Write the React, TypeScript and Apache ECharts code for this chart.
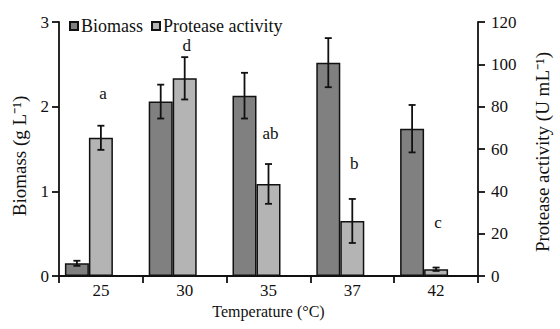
import React, { useEffect, useRef } from "react";
import * as echarts from "echarts";

const categories = ["25", "30", "35", "37", "42"];
const biomass = [0.15, 2.06, 2.13, 2.52, 1.74];
const biomassErr = [0.03, 0.2, 0.27, 0.29, 0.28];
const protease = [65.3, 93.4, 43.5, 26, 3.2];
const proteaseErr = [5.7, 10, 9.4, 10.4, 0.8];
const letters = ["a", "d", "ab", "b", "c"];
const letterPos = [86, 109, 67.5, 53, 25.5];

const FONT = "'Liberation Serif', 'Times New Roman', serif";
const BAR_W = 24;

export default function App() {
  const ref = useRef<HTMLDivElement>(null);
  useEffect(() => {
    if (!ref.current) return;
    const chart = echarts.init(ref.current, undefined, { renderer: "svg" });

    const errItem = (offset: number) => (params: any, api: any) => {
      const x = api.value(0);
      const v = api.value(1);
      const e = api.value(2);
      const hi = api.coord([x, v + e]);
      const lo = api.coord([x, v - e]);
      const cx = hi[0] + offset;
      const cap = 3.5;
      const st = { stroke: "#111", lineWidth: 1.8 };
      return {
        type: "group",
        children: [
          { type: "line", shape: { x1: cx, y1: hi[1], x2: cx, y2: lo[1] }, style: st },
          { type: "line", shape: { x1: cx - cap, y1: hi[1], x2: cx + cap, y2: hi[1] }, style: st },
          { type: "line", shape: { x1: cx - cap, y1: lo[1], x2: cx + cap, y2: lo[1] }, style: st },
        ],
      };
    };

    const letterItem = (params: any, api: any) => {
      const p = api.coord([api.value(0), api.value(1)]);
      return {
        type: "text",
        x: p[0] + 2,
        y: p[1],
        style: {
          text: letters[params.dataIndex],
          fill: "#111",
          font: `17px ${FONT}`,
          align: "center",
          verticalAlign: "middle",
        },
      };
    };

    const axisLine = { show: true, lineStyle: { color: "#111", width: 1.8 } };
    const axisTick = { show: true, inside: false, length: 7, lineStyle: { color: "#111", width: 1.8 } };

    chart.setOption({
      animation: false,
      textStyle: { fontFamily: FONT },
      grid: { left: 59, right: 71, top: 22, bottom: 53 },
      legend: {
        left: 64,
        top: 12,
        itemWidth: 8,
        itemHeight: 8,
        itemGap: 8,
        icon: "rect",
        data: ["Biomass", "Protease activity"],
        textStyle: {
          fontFamily: FONT,
          fontSize: 18,
          lineHeight: 16,
          color: "#111",
          padding: [0, 0, 0, -2],
        },
      },
      xAxis: {
        type: "category",
        data: categories,
        axisLine,
        axisTick,
        axisLabel: { fontFamily: FONT, fontSize: 17, color: "#111", margin: 6 },
        name: "Temperature (°C)",
        nameLocation: "middle",
        nameGap: 21,
        nameTextStyle: { fontFamily: FONT, fontSize: 16, color: "#111" },
      },
      yAxis: [
        {
          type: "value",
          min: 0,
          max: 3,
          interval: 1,
          position: "left",
          axisLine,
          axisTick,
          splitLine: { show: false },
          axisLabel: { fontFamily: FONT, fontSize: 17, color: "#111", margin: 10 },
          name: "Biomass (g L⁻¹)",
          nameLocation: "middle",
          nameRotate: 90,
          nameGap: 30,
          nameTextStyle: { fontFamily: FONT, fontSize: 19, color: "#111", padding: [0, 14, 0, 0] },
        },
        {
          type: "value",
          min: 0,
          max: 120,
          interval: 20,
          position: "right",
          axisLine,
          axisTick,
          splitLine: { show: false },
          axisLabel: { fontFamily: FONT, fontSize: 17, color: "#111", margin: 13 },
          name: "Protease activity (U mL⁻¹)",
          nameLocation: "middle",
          nameRotate: 90,
          nameGap: 55,
          nameTextStyle: { fontFamily: FONT, fontSize: 19, color: "#111", padding: [0, 6, 0, 0] },
        },
      ],
      series: [
        {
          name: "Biomass",
          type: "bar",
          yAxisIndex: 0,
          barWidth: BAR_W,
          barGap: "0%",
          data: biomass,
          itemStyle: { color: "#808080", borderColor: "#111", borderWidth: 1.5 },
        },
        {
          name: "Protease activity",
          type: "bar",
          yAxisIndex: 1,
          barWidth: BAR_W,
          barGap: "0%",
          data: protease,
          itemStyle: { color: "#b4b4b4", borderColor: "#111", borderWidth: 1.5 },
        },
        {
          name: "spacer",
          type: "bar",
          yAxisIndex: 1,
          barWidth: BAR_W,
          barGap: "0%",
          data: categories.map(() => null),
        },
        {
          type: "custom",
          yAxisIndex: 0,
          renderItem: errItem(-BAR_W),
          data: biomass.map((v, i) => [i, v, biomassErr[i]]),
          z: 5,
        },
        {
          type: "custom",
          yAxisIndex: 1,
          renderItem: errItem(0),
          data: protease.map((v, i) => [i, v, proteaseErr[i]]),
          z: 5,
        },
        {
          type: "custom",
          yAxisIndex: 1,
          renderItem: letterItem,
          data: letterPos.map((v, i) => [i, v]),
          z: 6,
        },
      ],
    });
    return () => chart.dispose();
  }, []);
  return (
    <div
      ref={ref}
      style={{ position: "absolute", left: 0, top: 0, width: 560, height: 329 }}
    />
  );
}
